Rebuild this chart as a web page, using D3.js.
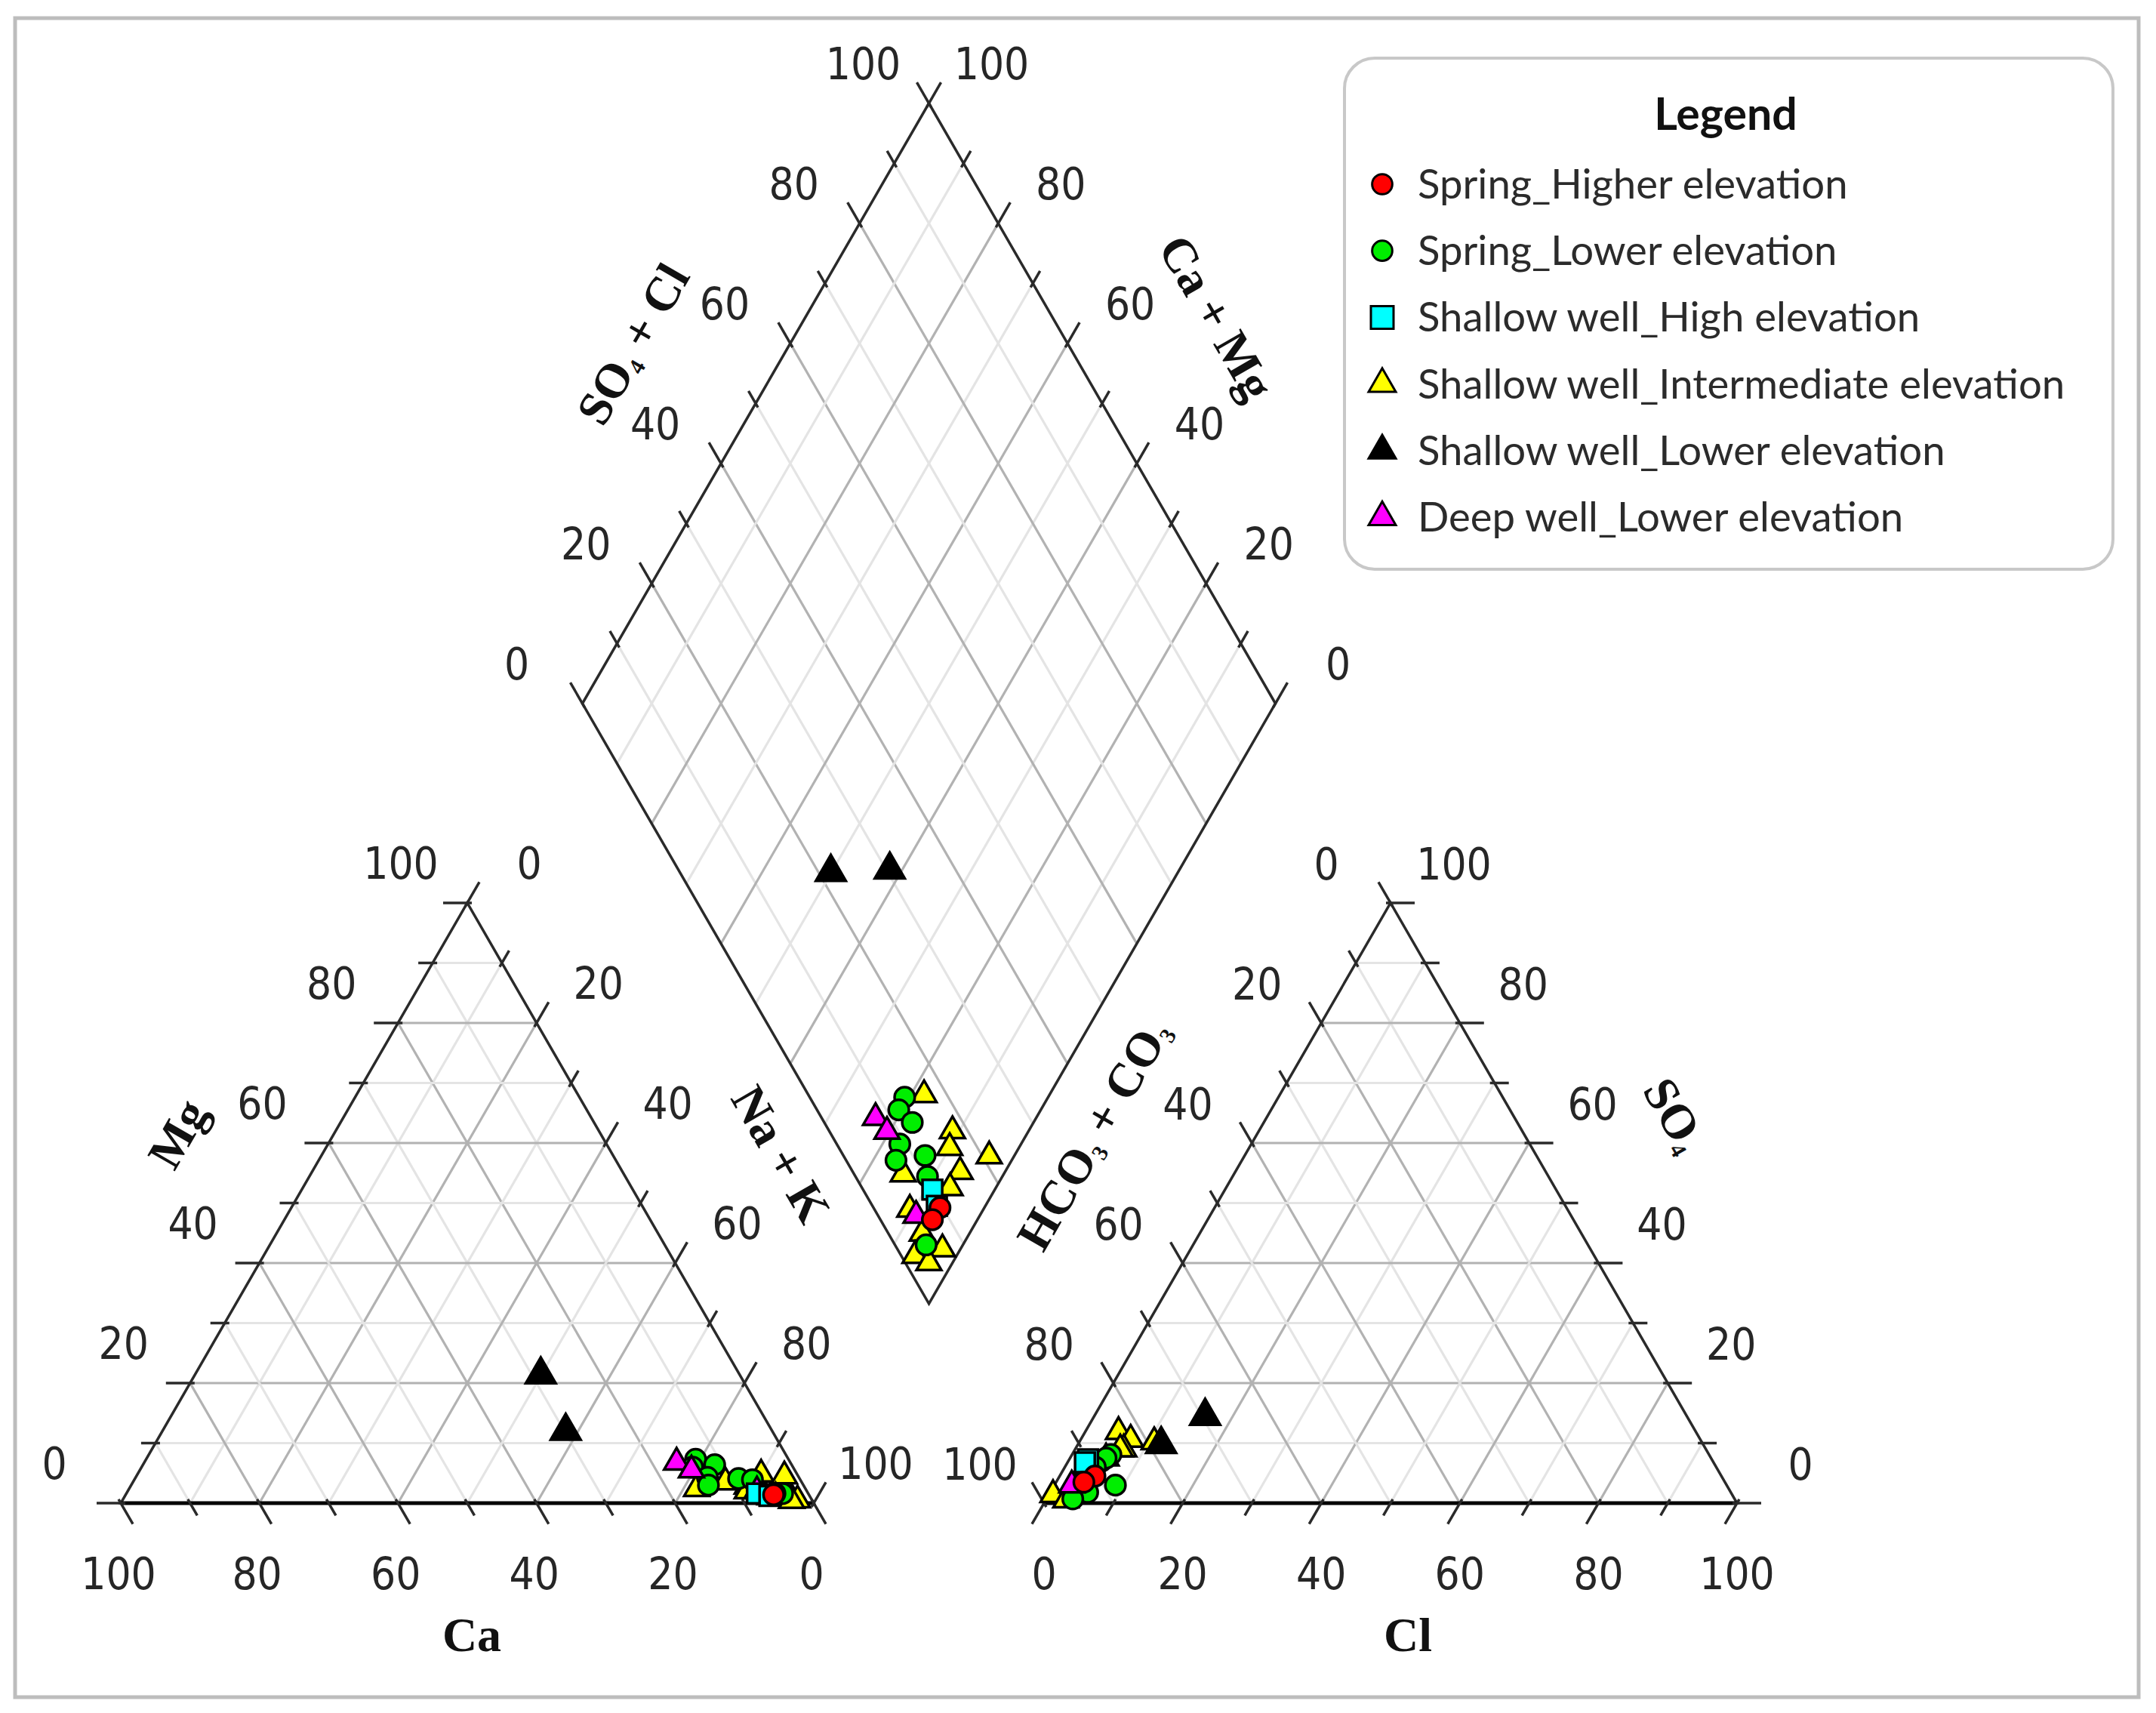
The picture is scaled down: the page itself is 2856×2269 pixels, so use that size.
<!DOCTYPE html>
<html>
<head>
<meta charset="utf-8">
<script src="https://cdn.jsdelivr.net/npm/d3@7"></script>
<style>
  body { margin: 0; background: #fff; }
</style>
</head>
<body>
<div id="piper_container"></div>
<script>
// legend categories
const groupNames = [
  "Spring_Higher elevation",
  "Spring_Lower elevation",
  "Shallow well_High elevation",
  "Shallow well_Intermediate elevation",
  "Shallow well_Lower elevation",
  "Deep well_Lower elevation"
];

// samples (meq %). Na+K = 100 - Ca - Mg, HCO3+CO3 = 100 - SO4 - Cl
const sampleGroup = [3,3,3,3,3,3,3,3,3,3,3,3, 1,1,1,1,1,1,1,1, 5,5,5, 2,2, 0,0, 4,4];
const caPct  = [15.7, 8.2, 5.2, 2.8, 2.0, 11.0, 5.4, 8.6, 5.8, 2.1, 5.0, 3.0,
                13.4, 14.5, 11.1, 13.2, 8.8, 13.7, 6.9, 3.7,
                16.4, 14.9, 7.2,  7.4, 5.8,  4.8, 5.1,  28.7, 29.8];
const mgPct  = [2.4, 2.8, 4.8, 0.8, 4.5, 3.5, 1.2, 2.0, 1.0, 0.5, 1.0, 0.4,
                7.3, 6.0, 6.4, 4.3, 4.1, 3.0, 3.9, 1.6,
                6.8, 5.5, 2.0,  1.6, 1.2,  1.6, 1.4,  21.4, 12.0];
const so4Pct = [11.9, 10.6, 9.0, 10.2, 9.0, 3.0, 7.5, 2.0, 1.5, 3.5, 1.4, 0.5,
                8.1, 7.0, 7.5, 5.0, 3.0, 1.8, 6.0, 0.7,
                4.5, 5.0, 3.0,  7.3, 6.8,  4.5, 3.5,  9.8, 14.5];
const clPct  = [4.8, 7.2, 7.0, 10.8, 6.5, 4.1, 5.2, 3.1, 3.4, 3.0, 0.6, 2.9,
                5.6, 4.8, 5.2, 4.1, 8.8, 5.4, 4.4, 3.8,
                3.3, 3.3, 2.5,  2.7, 2.5,  5.1, 4.0,  12.0, 16.0];

const tickValues = [0, 10, 20, 30, 40, 50, 60, 70, 80, 90, 100];
const labelValues = [0, 20, 40, 60, 80, 100];

// ---- look
const groupFill = ["#ff0000", "#00ee00", "#00ffff", "#ffff00", "#000000", "#ff00ff"];
const groupShape = [d3.symbolCircle, d3.symbolCircle, d3.symbolSquare,
                    d3.symbolTriangle, d3.symbolTriangle, d3.symbolTriangle];
const groupSize = [560, 560, 680, 470, 680, 470];

const W = 2856, H = 2269;
const svg = d3.select("#piper_container")
  .append("svg")
  .attr("width", W)
  .attr("height", H)
  .attr("viewBox", `0 0 ${W} ${H}`);

svg.append("rect")
  .attr("x", 20).attr("y", 24)
  .attr("width", 2813).attr("height", 2224)
  .attr("fill", "#fff")
  .attr("stroke", "#bdbdbd")
  .attr("stroke-width", 5);

// geometry
const h = Math.sqrt(3) / 2;
const side = 918;
const pct = d3.scaleLinear().domain([0, 100]).range([0, side]);
const catO = { x: 160, y: 1991 };
const anO = { x: 1383, y: 1991 };
const gap = anO.x - (catO.x + side);
const dB = { x: catO.x + side + gap / 2, y: catO.y - gap / 2 * Math.sqrt(3) };

const catXY = (mg, na) => [catO.x + pct(na) + pct(mg) / 2, catO.y - pct(mg) * h];
const anXY = (so4, cl) => [anO.x + pct(cl) + pct(so4) / 2, anO.y - pct(so4) * h];
const dmXY = (a, b) => [dB.x + (pct(a) - pct(b)) / 2, dB.y - (pct(a) + pct(b)) * h];

const gridG = svg.append("g");
const inner = tickValues.filter(k => k > 0 && k < 100);

function gridLines(pairs) {
  gridG.selectAll(null)
    .data(pairs)
    .enter()
    .append("line")
    .attr("x1", d => d[1][0]).attr("y1", d => d[1][1])
    .attr("x2", d => d[2][0]).attr("y2", d => d[2][1])
    .attr("stroke", d => d[0] % 20 === 0 ? "#b2b2b2" : "#e4e4e4")
    .attr("stroke-width", 3.2);
}

// cation grid
gridLines(inner.flatMap(k => [
  [k, catXY(k, 0), catXY(k, 100 - k)],
  [k, catXY(0, 100 - k), catXY(100 - k, 0)],
  [k, catXY(0, k), catXY(100 - k, k)]
]));
// anion grid
gridLines(inner.flatMap(k => [
  [k, anXY(k, 0), anXY(k, 100 - k)],
  [k, anXY(0, 100 - k), anXY(100 - k, 0)],
  [k, anXY(0, k), anXY(100 - k, k)]
]));
// diamond grid
gridLines(inner.flatMap(k => [
  [k, dmXY(k, 0), dmXY(k, 100)],
  [k, dmXY(0, k), dmXY(100, k)]
]));

// outlines
const outline = pts => svg.append("polygon")
  .attr("points", pts.map(p => p.join(",")).join(" "))
  .attr("fill", "none")
  .attr("stroke", "#2a2a2a")
  .attr("stroke-width", 3.5)
  .attr("stroke-linejoin", "miter");

outline([catXY(0, 0), catXY(0, 100), catXY(100, 0)]);
outline([anXY(0, 0), anXY(0, 100), anXY(100, 0)]);
outline([dmXY(0, 0), dmXY(100, 0), dmXY(100, 100), dmXY(0, 100)]);

// baselines a bit heavier
[[catXY(0, 0), catXY(0, 100)], [anXY(0, 0), anXY(0, 100)]].forEach(l => {
  svg.append("line")
    .attr("x1", l[0][0]).attr("y1", l[0][1])
    .attr("x2", l[1][0]).attr("y2", l[1][1])
    .attr("stroke", "#000").attr("stroke-width", 5);
});

// axes: tick position, outward direction, label offset
const axes = [
  { pos: k => catXY(k, 0),         dir: [-1, 0],    off: [-88, -53] },
  { pos: k => catXY(0, 100 - k),   dir: [0.5, h],   off: [-3, 93] },
  { pos: k => catXY(100 - k, k),   dir: [0.5, -h],  off: [82, -53] },
  { pos: k => anXY(100 - k, 0),    dir: [-0.5, -h], off: [-85, -52] },
  { pos: k => anXY(0, k),          dir: [-0.5, h],  off: [0, 93] },
  { pos: k => anXY(k, 100 - k),    dir: [1, 0],     off: [84, -52] },
  { pos: k => dmXY(k, 100),        dir: [-0.5, -h], off: [-87, -53] },
  { pos: k => dmXY(100, k),        dir: [0.5, -h],  off: [83, -53] }
];

const tickG = svg.append("g");
const labelG = svg.append("g")
  .style("font-family", "'Liberation Sans Narrow', 'DejaVu Sans Condensed', sans-serif")
  .style("font-size", "58px")
  .attr("fill", "#262626")
  .attr("text-anchor", "middle");

axes.forEach(ax => {
  tickG.selectAll(null)
    .data(tickValues)
    .enter()
    .append("line")
    .attr("x1", k => ax.pos(k)[0] - ax.dir[0] * 6)
    .attr("y1", k => ax.pos(k)[1] - ax.dir[1] * 6)
    .attr("x2", k => ax.pos(k)[0] + ax.dir[0] * (k % 20 === 0 ? 32 : 19))
    .attr("y2", k => ax.pos(k)[1] + ax.dir[1] * (k % 20 === 0 ? 32 : 19))
    .attr("stroke", "#2a2a2a")
    .attr("stroke-width", 3.5);

  labelG.selectAll(null)
    .data(labelValues)
    .enter()
    .append("text")
    .attr("x", k => ax.pos(k)[0] + ax.off[0])
    .attr("y", k => ax.pos(k)[1] + ax.off[1] + 21)
    .text(k => k);
});

// axis titles (with subscripts)
function title(x, y, rot, parts) {
  const t = svg.append("text")
    .attr("transform", `translate(${x},${y}) rotate(${rot})`)
    .attr("y", 21)
    .attr("text-anchor", "middle")
    .style("font-family", "'Liberation Serif', 'Times New Roman', serif")
    .style("font-size", "64px")
    .style("font-weight", "bold")
    .attr("fill", "#111");
  let shifted = false;
  parts.forEach(p => {
    const ts = t.append("tspan").text(p.t);
    if (p.sub) {
      ts.attr("dy", 8).style("font-size", "30px");
      shifted = true;
    } else if (shifted) {
      ts.attr("dy", -8);
      shifted = false;
    }
  });
}

title(625, 2166, 0, [{ t: "Ca" }]);
title(236, 1502, -60, [{ t: "Mg" }]);
title(1034, 1529, 60, [{ t: "Na + K" }]);
title(1449, 1503, -60, [{ t: "HCO" }, { t: "3", sub: true }, { t: " + CO" }, { t: "3", sub: true }]);
title(2218, 1477, 60, [{ t: "SO" }, { t: "4", sub: true }]);
title(1865, 2166, 0, [{ t: "Cl" }]);
title(839, 456, -60, [{ t: "SO" }, { t: "4", sub: true }, { t: " + Cl" }]);
title(1611, 421, 60, [{ t: "Ca + Mg" }]);

// samples
const samples = sampleGroup.map((g, i) => ({
  g: g,
  cat: catXY(mgPct[i], 100 - caPct[i] - mgPct[i]),
  an: anXY(so4Pct[i], clPct[i]),
  dm: dmXY(so4Pct[i] + clPct[i], caPct[i] + mgPct[i])
}));

const sym = d3.symbol();
["cat", "an", "dm"].forEach(key => {
  svg.append("g")
    .selectAll("path")
    .data(samples)
    .enter()
    .append("path")
    .attr("transform", d => `translate(${d[key][0]},${d[key][1]})`)
    .attr("d", d => sym.type(groupShape[d.g]).size(groupSize[d.g])())
    .attr("fill", d => groupFill[d.g])
    .attr("stroke", "#000")
    .attr("stroke-width", 3.5);
});

// legend
const legend = svg.append("g");
legend.append("rect")
  .attr("x", 1781).attr("y", 77)
  .attr("width", 1018).attr("height", 677)
  .attr("rx", 40).attr("ry", 40)
  .attr("fill", "#fff")
  .attr("stroke", "#c8c8c8")
  .attr("stroke-width", 4);

legend.append("text")
  .attr("x", 2286).attr("y", 172)
  .attr("text-anchor", "middle")
  .style("font-family", "Lato, 'Open Sans', sans-serif")
  .style("font-size", "59px")
  .style("font-weight", "bold")
  .attr("fill", "#111")
  .text("Legend");

const legendSize = [560, 560, 900, 560, 560, 560];
const items = legend.selectAll("g.item")
  .data(groupNames)
  .enter()
  .append("g")
  .attr("class", "item")
  .attr("transform", (d, i) => `translate(1831,${244 + i * 88.2})`);

items.append("path")
  .attr("d", (d, i) => sym.type(groupShape[i]).size(legendSize[i])())
  .attr("fill", (d, i) => groupFill[i])
  .attr("stroke", "#000")
  .attr("stroke-width", 3);

items.append("text")
  .attr("x", 47)
  .attr("y", 19)
  .style("font-family", "Lato, 'Open Sans', sans-serif")
  .style("font-size", "54.5px")
  .attr("fill", "#2b2b2b")
  .text(d => d);
</script>
</body>
</html>
